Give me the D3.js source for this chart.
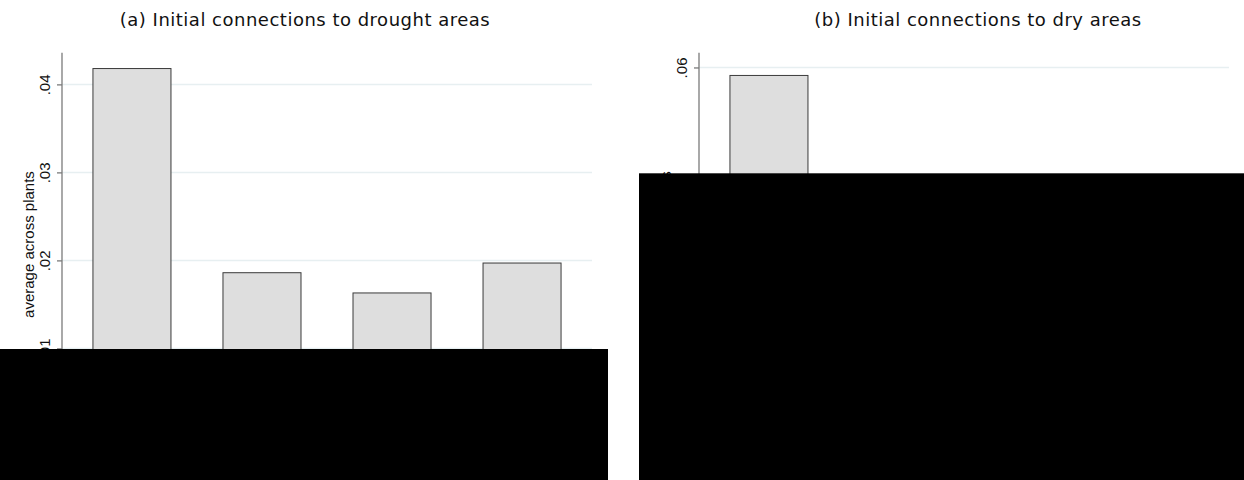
<!DOCTYPE html>
<html>
<head>
<meta charset="utf-8">
<script src="https://cdn.jsdelivr.net/npm/d3@7"></script>
<style>
  html, body { margin: 0; padding: 0; background: #ffffff; }
  svg { display: block; }
</style>
</head>
<body>
<svg id="chart" width="1244" height="480"></svg>
<script>
// ---------------- data ----------------
const titleA = "(a) Initial connections to drought areas";
const titleB = "(b) Initial connections to dry areas";
const yTitle = "average across plants";

// bar slots (category labels are hidden in the reference)
const categories = ["1", "2", "3", "4"];

// panel (a): average across plants, by category
const valuesA = [0.0418, 0.0186, 0.0163, 0.0197];
// panel (b): only the first bar is visible in the reference
const valuesB = [0.0587];

const ticksA = [0, 0.01, 0.02, 0.03, 0.04];
const ticksB = [0, 0.02, 0.04, 0.06];
const tickLabelsA = ["0", ".01", ".02", ".03", ".04"];
const tickLabelsB = ["0", ".02", ".04", ".06"];

// ---------------- layout ----------------
const W = 1244, H = 480;
const plotTop = 52.7, plotBottom = 436.4;
const panels = [
  { title: titleA, values: valuesA, ticks: ticksA, labels: tickLabelsA, yMax: 0.0436,
    left: 62, right: 592, titleX: 305, yTitleX: 29 },
  { title: titleB, values: valuesB, ticks: ticksB, labels: tickLabelsB, yMax: 0.0624,
    left: 699, right: 1229, titleX: 978, yTitleX: 666 }
];
// regions that are blacked out in the reference
const occluders = [
  { x: 0, y: 349, w: 608, h: 131 },
  { x: 639, y: 173.3, w: 605, h: 306.7 }
];

const svg = d3.select("#chart");
svg.append("rect").attr("width", W).attr("height", H).attr("fill", "#ffffff");

panels.forEach(p => {
  const g = svg.append("g");
  const x = d3.scaleBand().domain(categories).range([p.left, p.right])
    .paddingInner(0.4).paddingOuter(0.238);
  const y = d3.scaleLinear().domain([0, p.yMax]).range([plotBottom, plotTop]);

  // gridlines
  g.selectAll("line.grid").data(p.ticks.filter(t => t > 0)).join("line")
    .attr("class", "grid")
    .attr("x1", p.left).attr("x2", p.right)
    .attr("y1", d => y(d)).attr("y2", d => y(d))
    .attr("stroke", "#e7eff1").attr("stroke-width", 1.5);

  // bars
  g.selectAll("rect.bar").data(p.values).join("rect")
    .attr("class", "bar")
    .attr("x", (d, i) => x(categories[i]))
    .attr("width", x.bandwidth())
    .attr("y", d => y(d))
    .attr("height", d => y(0) - y(d))
    .attr("fill", "#dedede")
    .attr("stroke", "#3a3a3a").attr("stroke-width", 1);

  // y axis
  const axis = d3.axisLeft(y).tickValues(p.ticks).tickSize(5)
    .tickFormat((d, i) => p.labels[i]);
  const ag = g.append("g").attr("transform", `translate(${p.left},0)`).call(axis);
  ag.select(".domain").attr("d", `M0,${plotTop}V${plotBottom}`)
    .attr("stroke", "#7a7a7a").attr("stroke-width", 1.3);
  ag.selectAll(".tick line").attr("stroke", "#7a7a7a").attr("stroke-width", 1.3);
  ag.selectAll(".tick text")
    .attr("font-family", "'Liberation Sans', Arial, sans-serif")
    .attr("font-size", 15).attr("fill", "#111")
    .attr("text-anchor", "middle")
    .attr("x", null).attr("dy", null)
    .attr("transform", "translate(-12,0) rotate(-90)")
    .attr("y", 0);

  // y title
  g.append("text")
    .attr("transform", `translate(${p.yTitleX},${(plotTop + plotBottom) / 2}) rotate(-90)`)
    .attr("text-anchor", "middle").attr("dy", "0.35em")
    .attr("font-family", "'Liberation Sans', Arial, sans-serif")
    .attr("font-size", 15).attr("fill", "#111")
    .text(yTitle);

  // panel title
  g.append("text")
    .attr("x", p.titleX).attr("y", 26)
    .attr("text-anchor", "middle")
    .attr("font-family", "'DejaVu Sans', sans-serif")
    .attr("font-size", 18).attr("letter-spacing", 0.5)
    .attr("fill", "#111")
    .text(p.title);
});

// black occluding blocks as in the reference
svg.selectAll("rect.occ").data(occluders).join("rect")
  .attr("class", "occ")
  .attr("x", d => d.x).attr("y", d => d.y)
  .attr("width", d => d.w).attr("height", d => d.h)
  .attr("fill", "#000");
</script>
</body>
</html>
